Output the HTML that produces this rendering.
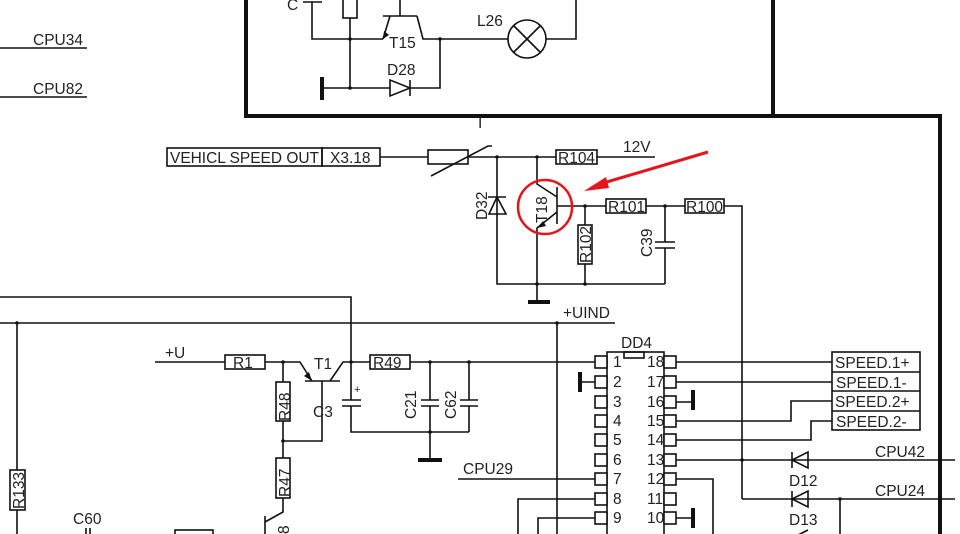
<!DOCTYPE html>
<html><head><meta charset="utf-8"><style>
html,body{margin:0;padding:0;background:#fff;}
svg{display:block;font-family:"Liberation Sans",sans-serif;}
text{font-size:15.5px;fill:#222;}
</style></head><body>
<svg width="960" height="534" viewBox="0 0 960 534" xmlns="http://www.w3.org/2000/svg">
<g stroke="#111" stroke-width="1.6" fill="none">
<path d="M246,0 V116 H940 V534" stroke-width="4"/>
<path d="M773,0 V116" stroke-width="4"/>
<path d="M303,2 H322 M312,2 V39 H383 M400,0 V16 M383,16 H417 M390,16 L383,39 M417,16 L423,39 H508 M546,39 H576 V0"/>
<rect x="343" y="-2" width="14" height="20" fill="#fff"/>
<path d="M350,18 V88 M440,39 V88 H410 M390,88 H322"/>
<path d="M322,77 V100" stroke-width="4"/>
<path d="M390,80 V96 L410,88 Z M410,80 V96"/>
<circle cx="527" cy="39" r="19"/>
<path d="M514,26 L540,52 M540,26 L514,52"/>
<path d="M0,48 H87 M0,97 H87"/>
<rect x="167" y="148" width="155" height="18"/>
<rect x="322" y="148" width="58" height="18"/>
<path d="M380,157 H428 M468,157 H556 M597,157 H655"/>
<rect x="428" y="150" width="40" height="14" fill="#fff"/>
<path d="M431,176 L488,146 H492"/>
<rect x="556" y="150" width="41" height="14"/>
<path d="M497,157 V284 H665 M537,157 V184 L557,197 M557,187 V224 M557,212 L537,228 V302"/>
<path d="M528,302 H550" stroke-width="4"/>
<path d="M489,214 H506 L497,197 Z M488,197 H506"/>
<path d="M557,206 H606 M646,206 H685 M724,206 H742 V499"/>
<rect x="606" y="199" width="40" height="14"/>
<rect x="685" y="199" width="39" height="14"/>
<path d="M585,206 V284"/>
<rect x="578" y="225" width="14" height="39" fill="#fff"/>
<path d="M665,206 V242 M655,242 H675 M655,248 H675 M665,248 V284"/>
<path d="M0,297 H351 V400 M0,323 H615 M557,323 V534"/>
<path d="M155,362 H225 M265,362 H300 L312,381 M305,381 H340 M330,381 L343,362 H370 M410,362 H595"/>
<rect x="225" y="355" width="40" height="14"/>
<rect x="370" y="355" width="40" height="14"/>
<path d="M342,400 H361 M342,406 H361 M351,406 V432 H469 M430,362 V400 M421,400 H439 M421,406 H439 M430,406 V460 M469,362 V400 M460,400 H478 M460,406 H478 M469,406 V432"/>
<path d="M418,460 H442" stroke-width="4"/>
<path d="M283,362 V382 M283,421 V458 M283,441 H322 V381 M283,498 V512 L265,522 M265,516 V534"/>
<rect x="276" y="382" width="14" height="39"/>
<rect x="276" y="458" width="14" height="40"/>
<path d="M17,323 V470 M17,510 V534"/>
<rect x="10" y="470" width="15" height="40"/>
<path d="M86,528 V534 M90,528 V534"/>
<rect x="175" y="530" width="38" height="10"/>
<rect x="607" y="352" width="57" height="190"/>
<rect x="624" y="352" width="20" height="6"/>
<g fill="#fff">
<rect x="595" y="356" width="12" height="12"/><rect x="595" y="376" width="12" height="12"/><rect x="595" y="396" width="12" height="12"/><rect x="595" y="415" width="12" height="12"/><rect x="595" y="434" width="12" height="12"/><rect x="595" y="454" width="12" height="12"/><rect x="595" y="473" width="12" height="12"/><rect x="595" y="493" width="12" height="12"/><rect x="595" y="512" width="12" height="12"/>
<rect x="664" y="356" width="12" height="12"/><rect x="664" y="376" width="12" height="12"/><rect x="664" y="396" width="12" height="12"/><rect x="664" y="415" width="12" height="12"/><rect x="664" y="434" width="12" height="12"/><rect x="664" y="454" width="12" height="12"/><rect x="664" y="473" width="12" height="12"/><rect x="664" y="493" width="12" height="12"/><rect x="664" y="512" width="12" height="12"/>
</g>
<path d="M582,382 H595 M676,402 H693 M676,518 H693"/>
<path d="M580,372 V392 M693,390 V410 M693,508 V528" stroke-width="4"/>
<path d="M676,362 H832 M676,382 H832 M832,401 H791 V421 H676 M832,421 H811 V440 H676 M676,460 H955 M742,499 H955 M840,499 V534 M676,479 H713 V534 M458,479 H595 M595,499 H518 V534 M595,518 H538 V534"/>
<rect x="832" y="352" width="88" height="78"/>
<path d="M832,372 H920 M832,391 H920 M832,411 H920"/>
<path d="M808,452 V468 L792,460 Z M792,452 V468 M808,491 V507 L792,499 Z M792,491 V507"/>
<path d="M808,530 L792,538"/>
</g>
<g fill="#111">
<circle cx="350" cy="39" r="1.8"/><circle cx="440" cy="39" r="1.8"/><circle cx="350" cy="88" r="1.8"/>
<circle cx="497" cy="157" r="1.8"/><circle cx="537" cy="157" r="1.8"/><circle cx="585" cy="206" r="1.8"/><circle cx="665" cy="206" r="1.8"/>
<circle cx="537" cy="284" r="1.8"/><circle cx="585" cy="284" r="1.8"/>
<circle cx="283" cy="362" r="1.8"/><circle cx="351" cy="362" r="1.8"/><circle cx="430" cy="362" r="1.8"/><circle cx="469" cy="362" r="1.8"/>
<circle cx="430" cy="432" r="1.8"/><circle cx="283" cy="441" r="1.8"/><circle cx="557" cy="323" r="1.8"/>
<circle cx="742" cy="460" r="1.8"/><circle cx="840" cy="499" r="1.8"/><circle cx="17" cy="323" r="1.8"/>
<path d="M383,39 L384,31 L389,35 Z"/><path d="M312,381 L304,376 L309,372 Z"/><path d="M537,228 L543,221 L546,226 Z"/>
</g>
<ellipse cx="545" cy="207" rx="27" ry="27" fill="none" stroke="#e8141c" stroke-width="2.5"/>
<path d="M708,152 L600,184" stroke="#e8141c" stroke-width="3" fill="none"/>
<path d="M584,191 L606,177 L609,188 Z" fill="#e8141c"/>
<text x="287" y="10">C</text>
<text x="389" y="48">T15</text><text x="477" y="26">L26</text><text x="387" y="75">D28</text>
<text x="33" y="45">CPU34</text><text x="33" y="94">CPU82</text>
<text x="170" y="163" textLength="149" lengthAdjust="spacingAndGlyphs">VEHICL SPEED OUT</text><text x="330" y="163">X3.18</text>
<text x="478" y="128">I</text>
<text x="558" y="163">R104</text><text x="623" y="152">12V</text>
<text x="608" y="212">R101</text><text x="686" y="212">R100</text>
<text transform="translate(487,220) rotate(-90)">D32</text>
<text transform="translate(547,223) rotate(-90)">T18</text>
<text transform="translate(591,263) rotate(-90)">R102</text>
<text transform="translate(652,257) rotate(-90)">C39</text>
<text x="563" y="318">+UIND</text>
<text x="165" y="358">+U</text><text x="233" y="368">R1</text><text x="314" y="369">T1</text><text x="373" y="368">R49</text>
<text x="313" y="417">C3</text><text x="354" y="393" style="font-size:11px">+</text>
<text transform="translate(290,421) rotate(-90)">R48</text>
<text transform="translate(290,497) rotate(-90)">R47</text>
<text transform="translate(24,509) rotate(-90)">R133</text>
<text transform="translate(289,534) rotate(-90)">8</text>
<text transform="translate(416,419) rotate(-90)">C21</text>
<text transform="translate(456,419) rotate(-90)">C62</text>
<text x="73" y="524">C60</text>
<text x="463" y="474">CPU29</text>
<text x="621" y="348">DD4</text>
<g style="font-size:14px">
<text x="613" y="367">1</text><text x="613" y="387">2</text><text x="613" y="407">3</text><text x="613" y="426">4</text><text x="613" y="445">5</text><text x="613" y="465">6</text><text x="613" y="484">7</text><text x="613" y="504">8</text><text x="613" y="523">9</text>
<text x="647" y="367">18</text><text x="647" y="387">17</text><text x="647" y="407">16</text><text x="647" y="426">15</text><text x="647" y="445">14</text><text x="647" y="465">13</text><text x="647" y="484">12</text><text x="647" y="504">11</text><text x="647" y="523">10</text>
</g>
<text x="835" y="368">SPEED.1+</text><text x="836" y="388">SPEED.1-</text><text x="835" y="407">SPEED.2+</text><text x="836" y="427">SPEED.2-</text>
<text x="875" y="457">CPU42</text><text x="875" y="496">CPU24</text>
<text x="789" y="486">D12</text><text x="789" y="525">D13</text>
</svg>
</body></html>
